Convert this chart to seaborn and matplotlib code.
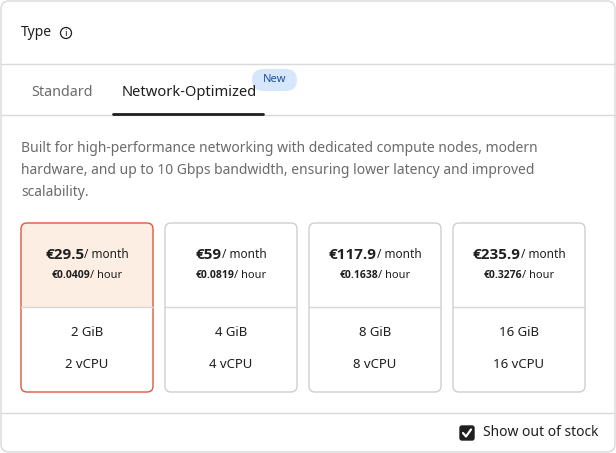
import numpy as np
import seaborn as sns
import matplotlib.pyplot as plt
from matplotlib.patches import FancyBboxPatch, Rectangle

sns.set_theme(style="white")
plt.rcParams['font.family'] = ['Noto Sans', 'DejaVu Sans']

# card data
price_month = ["€29.5", "€59", "€117.9", "€235.9"]
price_hour = ["€0.0409", "€0.0819", "€0.1638", "€0.3276"]
memory = ["2 GiB", "4 GiB", "8 GiB", "16 GiB"]
vcpu = ["2 vCPU", "4 vCPU", "8 vCPU", "16 vCPU"]
tabs = ["Standard", "Network-Optimized"]
description = ["Built for high-performance networking with dedicated compute nodes, modern",
               "hardware, and up to 10 Gbps bandwidth, ensuring lower latency and improved",
               "scalability."]

W, H = 616, 453
fig = plt.figure(figsize=(W / 100, H / 100), dpi=100)
ax = fig.add_axes([0, 0, 1, 1])
ax.set_xlim(0, W)
ax.set_ylim(H, 0)
ax.axis("off")
fig.patch.set_facecolor("white")

line_c = "#d9d9d9"
dark = "#1f1f1f"
grey = "#6b6b6b"
bold_fam = ['Open Sans', 'DejaVu Sans']

ax.add_patch(FancyBboxPatch((1, 1), W - 2, H - 2, boxstyle="round,pad=0,rounding_size=8",
                            fc="white", ec=line_c, lw=1))
ax.text(21, 33, "Type", fontsize=10, color=dark, va="center")
ax.add_patch(plt.Circle((66, 33), 5.5, fc="none", ec=dark, lw=0.9))
ax.text(66, 33.5, "i", fontsize=7, color=dark, ha="center", va="center")
ax.plot([1, W - 1], [64, 64], color=line_c, lw=1)

# tabs
ax.text(31, 92, tabs[0], fontsize=10.3, color=grey, va="center")
ax.text(122, 92, tabs[1], fontsize=10.6, color=dark, va="center")
ax.plot([1, W - 1], [115, 115], color=line_c, lw=1)
ax.plot([113, 263], [114, 114], color=dark, lw=2)
ax.add_patch(FancyBboxPatch((252, 69), 45, 22, boxstyle="round,pad=0,rounding_size=11",
                            fc="#d7e7fb", ec="none"))
ax.text(274.5, 79.5, "New", fontsize=8, color="#1d4f9c", ha="center", va="center")

for i, line in enumerate(description):
    ax.text(21, 148 + 22 * i, line, fontsize=10, color=grey, va="center")

fig.canvas.draw()
renderer = fig.canvas.get_renderer()


def pair_text(cx, y, a, b, sa, sb):
    t1 = ax.text(0, y, a, fontsize=sa, fontweight="bold", family=bold_fam, color=dark, va="center")
    t2 = ax.text(0, y, b, fontsize=sb, color=dark, va="center")
    w1 = t1.get_window_extent(renderer).width
    w2 = t2.get_window_extent(renderer).width
    x0 = cx - (w1 + w2) / 2
    t1.set_x(x0)
    t2.set_x(x0 + w1)


for i in range(len(price_month)):
    x = 21 + 144 * i
    w = 132
    sel = i == 0
    if sel:
        ax.add_patch(FancyBboxPatch((x, 223), w, 84, boxstyle="round,pad=0,rounding_size=6",
                                    fc="#fdeee4", ec="none"))
        ax.add_patch(Rectangle((x, 290), w, 17, fc="#fdeee4", ec="none"))
    ax.add_patch(FancyBboxPatch((x, 223), w, 169, boxstyle="round,pad=0,rounding_size=6",
                                fc="none", ec="#e0583c" if sel else "#cfcfcf", lw=1))
    ax.plot([x, x + w], [307, 307], color="#d6d6d6", lw=1)
    cx = x + w / 2
    pair_text(cx, 255, price_month[i], "/ month", 11, 8.5)
    pair_text(cx, 276, price_hour[i], "/ hour", 7.5, 8)
    ax.text(cx, 333, memory[i], fontsize=9.5, color=dark, ha="center", va="center")
    ax.text(cx, 365, vcpu[i], fontsize=9.5, color=dark, ha="center", va="center")

ax.plot([1, W - 1], [413, 413], color=line_c, lw=1)
ax.add_patch(FancyBboxPatch((460, 426), 14, 14, boxstyle="round,pad=0,rounding_size=2",
                            fc=dark, ec=dark))
ax.plot([463, 466, 471], [433, 436.5, 429.5], color="white", lw=1.6)
ax.text(483, 433, "Show out of stock", fontsize=10, color=dark, va="center")

fig.savefig("out.png", dpi=100)
